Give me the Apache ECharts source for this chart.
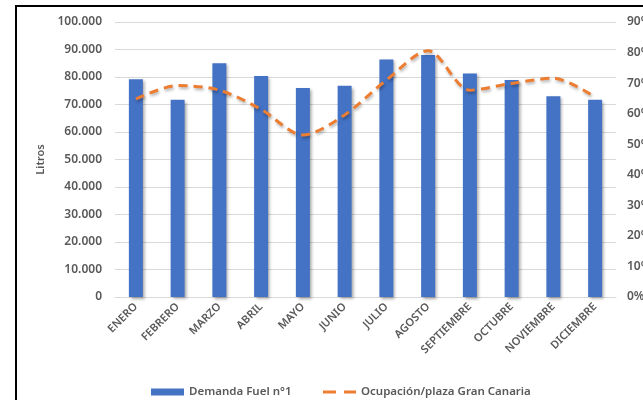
<!DOCTYPE html>
<html>
<head>
    <meta charset="utf-8">
    <title>Demanda Fuel</title>
    <script src="https://cdn.jsdelivr.net/npm/echarts@6/dist/echarts.min.js"></script>
    <style>
        html, body { margin: 0; padding: 0; background: #fff; overflow: hidden; }
        .frame {
            position: absolute;
            left: 15px;
            top: 5px;
            width: 700px;
            height: 500px;
            border: 2px solid #000;
            box-sizing: border-box;
        }
        #chart {
            position: absolute;
            left: 0;
            top: 0;
            width: 643px;
            height: 400px;
        }
    </style>
</head>
<body>
<div class="frame"></div>
<div id="chart"></div>
<script>
    var meses = ['ENERO', 'FEBRERO', 'MARZO', 'ABRIL', 'MAYO', 'JUNIO', 'JULIO', 'AGOSTO', 'SEPTIEMBRE', 'OCTUBRE', 'NOVIEMBRE', 'DICIEMBRE'];
    // litros por mes
    var demandaFuel = [79200, 71700, 85000, 80400, 76000, 76800, 86400, 88000, 81300, 78900, 73000, 71700];
    // ocupacion (fraccion)
    var ocupacion = [0.648, 0.692, 0.677, 0.614, 0.530, 0.596, 0.710, 0.806, 0.677, 0.699, 0.716, 0.654];

    var fuente = '"Noto Sans", sans-serif';
    var gris = '#595959';

    var chart = echarts.init(document.getElementById('chart'));

    function miles(v) {
        return String(v).replace(/\B(?=(\d{3})+(?!\d))/g, '.');
    }

    var option = {
        animation: false,
        textStyle: { fontFamily: fuente },
        grid: { left: 115, right: 27, top: 22, bottom: 103, outerBoundsMode: 'none' },
        legend: {
            left: 146,
            top: 381,
            itemWidth: 33,
            itemHeight: 7,
            itemGap: 30,
            textStyle: { fontFamily: fuente, fontSize: 11.5, fontWeight: 600, color: gris },
            data: [
                { name: 'Demanda Fuel n°1', icon: 'rect' },
                {
                    name: 'Ocupación/plaza Gran Canaria',
                    itemStyle: { opacity: 0 },
                    lineStyle: { type: [13, 8], width: 3 }
                }
            ]
        },
        xAxis: {
            type: 'category',
            data: meses,
            axisLine: { lineStyle: { color: '#D9D9D9', width: 1 } },
            axisTick: { show: false },
            axisLabel: {
                rotate: 45,
                interval: 0,
                margin: 8,
                fontSize: 11,
                fontWeight: 600,
                color: gris,
                fontFamily: fuente
            }
        },
        yAxis: [
            {
                type: 'value',
                min: 0,
                max: 100000,
                interval: 10000,
                name: 'Litros',
                nameLocation: 'middle',
                nameGap: 68,
                nameRotate: 90,
                nameTextStyle: { fontSize: 11, fontWeight: 600, color: gris, fontFamily: fuente },
                axisLine: { show: false },
                axisTick: { show: false },
                splitLine: { lineStyle: { color: '#D9D9D9', width: 1 } },
                axisLabel: {
                    margin: 13,
                    fontSize: 12,
                    fontWeight: 600,
                    color: gris,
                    fontFamily: fuente,
                    formatter: function (v) { return miles(v); }
                }
            },
            {
                type: 'value',
                min: 0,
                max: 0.9,
                interval: 0.1,
                axisLine: { show: false },
                axisTick: { show: false },
                splitLine: { show: false },
                axisLabel: {
                    margin: 11,
                    fontSize: 12,
                    fontWeight: 600,
                    color: gris,
                    fontFamily: fuente,
                    formatter: function (v) { return Math.round(v * 100) + '%'; }
                }
            }
        ],
        series: [
            {
                name: 'Demanda Fuel n°1',
                type: 'bar',
                data: demandaFuel,
                barWidth: 14,
                itemStyle: {
                    color: '#4472C4',
                    shadowBlur: 3,
                    shadowColor: 'rgba(0,0,0,0.35)',
                    shadowOffsetX: 2,
                    shadowOffsetY: 2
                }
            },
            {
                name: 'Ocupación/plaza Gran Canaria',
                type: 'line',
                yAxisIndex: 1,
                data: ocupacion,
                smooth: 0.3,
                symbol: 'none',
                itemStyle: { color: '#ED7D31' },
                lineStyle: {
                    color: '#ED7D31',
                    width: 3,
                    type: [9, 6],
                    shadowBlur: 3,
                    shadowColor: 'rgba(0,0,0,0.3)',
                    shadowOffsetX: 1,
                    shadowOffsetY: 2
                }
            }
        ]
    };

    chart.setOption(option);
</script>
</body>
</html>
